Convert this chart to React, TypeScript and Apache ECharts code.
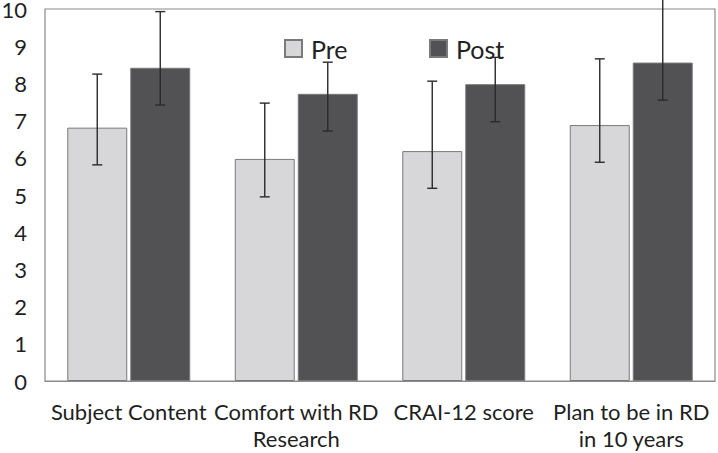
import React, { useEffect, useRef } from "react";
import * as echarts from "echarts";

const categories = [
  "Subject Content",
  "Comfort with RD\nResearch",
  "CRAI-12 score",
  "Plan to be in RD\nin 10 years",
];
const preValues = [6.81, 5.97, 6.18, 6.88];
const postValues = [8.42, 7.72, 7.98, 8.56];
const preLow = [5.81, 4.95, 5.18, 5.88];
const preHigh = [8.25, 7.47, 8.06, 8.66];
const postLow = [7.42, 6.72, 6.97, 7.55];
const postHigh = [9.93, 8.57, 8.7, 10.5];

const FONT = "Lato, 'Open Sans', sans-serif";
const BAR_W = 60;
const GAP = 3;

export default function App() {
  const ref = useRef<HTMLDivElement>(null);
  useEffect(() => {
    document.body.style.margin = "0";
    const chart = echarts.init(ref.current!, null, { renderer: "svg" });
    const errData = (low: number[], high: number[]) =>
      categories.map((_, i) => [i, low[i], high[i]]);
    const errSeries = (name: string, low: number[], high: number[], sign: number) => ({
      type: "custom",
      name: name + " error",
      clip: false,
      z: 5,
      data: errData(low, high),
      encode: { x: 0, y: [1, 2] },
      renderItem: (params: any, api: any) => {
        const i = api.value(0);
        const lo = api.coord([i, api.value(1)]);
        const hi = api.coord([i, api.value(2)]);
        const x = lo[0] + sign * (BAR_W / 2 + GAP / 2);
        const cap = 5;
        const style = { stroke: "#2a2a2a", lineWidth: 1.4 };
        return {
          type: "group",
          children: [
            { type: "line", shape: { x1: x, y1: lo[1], x2: x, y2: hi[1] }, style },
            { type: "line", shape: { x1: x - cap, y1: lo[1], x2: x + cap, y2: lo[1] }, style },
            { type: "line", shape: { x1: x - cap, y1: hi[1], x2: x + cap, y2: hi[1] }, style },
          ],
        };
      },
    });
    const legendBase = {
      icon: "rect",
      itemWidth: 17,
      itemHeight: 17,
      top: 31,
      padding: 5,
      textStyle: { fontSize: 25, color: "#222", fontFamily: FONT, padding: [0, 0, 0, 4] },
    };
    chart.setOption({
      animation: false,
      textStyle: { fontFamily: FONT },
      grid: {
        left: 45,
        right: 3,
        top: 9,
        bottom: 72,
        outerBoundsMode: "none",
        containLabel: false,
        show: true,
        borderColor: "#8a8a8a",
        borderWidth: 1.2,
      },
      legend: [
        { ...legendBase, data: ["Pre"], left: 279 },
        { ...legendBase, data: ["Post"], left: 424 },
      ],
      xAxis: {
        type: "category",
        data: categories,
        axisTick: { show: false },
        axisLine: { lineStyle: { color: "#8a8a8a", width: 1.2 } },
        axisLabel: {
          interval: 0,
          fontSize: 22,
          lineHeight: 27,
          margin: 17,
          color: "#1f1f1f",
          fontFamily: FONT,
        },
      },
      yAxis: {
        type: "value",
        min: 0,
        max: 10,
        interval: 1,
        splitLine: { show: false },
        axisLine: { show: false },
        axisLabel: {
          fontSize: 22,
          lineHeight: 17,
          color: "#1f1f1f",
          margin: 18,
          fontFamily: FONT,
        },
      },
      series: [
        {
          type: "bar",
          name: "Pre",
          data: preValues,
          barWidth: BAR_W,
          barGap: (GAP / BAR_W) * 100 + "%",
          itemStyle: { color: "#d7d7d9", borderColor: "#7a7a7a", borderWidth: 1 },
        },
        {
          type: "bar",
          name: "Post",
          data: postValues,
          barWidth: BAR_W,
          itemStyle: { color: "#525254", borderColor: "#7a7a7a", borderWidth: 1 },
        },
        errSeries("Pre", preLow, preHigh, -1),
        errSeries("Post", postLow, postHigh, 1),
      ],
    });
    return () => chart.dispose();
  }, []);
  return <div ref={ref} style={{ width: 718, height: 453 }} />;
}
